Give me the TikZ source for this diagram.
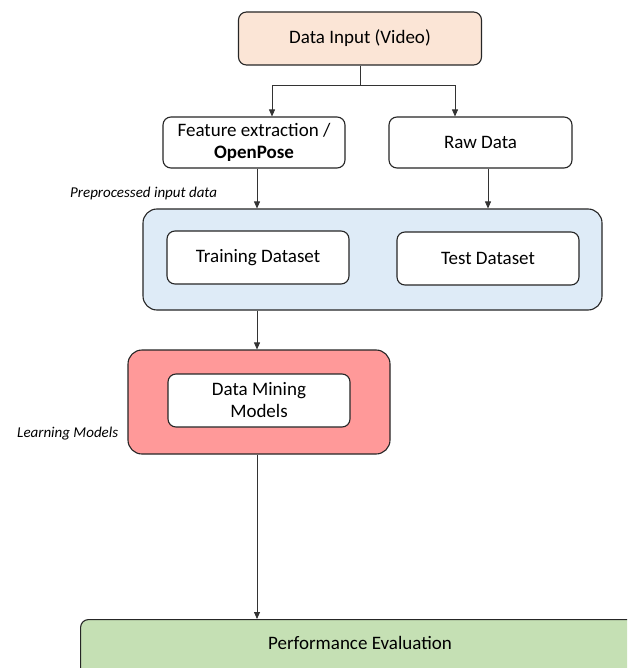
\documentclass[tikz,border=0pt]{standalone}
\usepackage{fontspec}
\setmainfont{Carlito}
\usetikzlibrary{arrows.meta}
\definecolor{cin}{HTML}{FBE5D6}
\definecolor{cblue}{HTML}{DEEBF7}
\definecolor{cred}{HTML}{FF9999}
\definecolor{cgreen}{HTML}{C5E0B4}
\begin{document}
\begin{tikzpicture}[x=1pt,y=-1pt,
  box/.style={draw=black!85,line width=1.1pt,rounded corners=8pt,fill=white,align=center,font=\fontsize{19}{22}\selectfont,inner sep=0pt},
  lab/.style={font=\fontsize{15}{17}\selectfont\itshape,inner sep=0pt},
  conn/.style={draw=black!80,line width=0.8pt},
  arr/.style={conn,-{Triangle[length=7pt,width=6pt]}}]
\clip (0,0) rectangle (627,668);
\fill[white] (0,0) rectangle (627,668);
% nodes
\node[box,fill=cin,minimum width=243pt,minimum height=53pt] (in) at (360,38.5) {Data Input (Video)};
\node[box,minimum width=182pt,minimum height=51pt] (fe) at (254,142.5) {Feature extraction /\\\textbf{OpenPose}};
\node[box,minimum width=183pt,minimum height=51pt] (raw) at (480.5,142.5) {Raw Data};
\node[box,fill=cblue,rounded corners=14pt,minimum width=459pt,minimum height=101pt] (pre) at (372.5,259.5) {};
\node[box,minimum width=182pt,minimum height=53pt] (train) at (258,257.5) {Training Dataset};
\node[box,minimum width=182pt,minimum height=53pt] (test) at (488,258.5) {Test Dataset};
\node[box,fill=cred,rounded corners=14pt,minimum width=262pt,minimum height=104pt] (lm) at (259,402) {};
\node[box,minimum width=182pt,minimum height=53pt] (dm) at (259,400.5) {Data Mining\\Models};
\node[box,fill=cgreen,minimum width=560pt,minimum height=60pt,anchor=north west] (pe) at (80,619) {};
\node[font=\fontsize{19}{22}\selectfont,inner sep=0pt] (pet) at (360,643) {Performance Evaluation};
\node[lab,anchor=west] (l1) at (70,194) {Preprocessed input data};
\node[lab,anchor=west] (l2) at (17,434) {Learning Models};
% connectors
\coordinate (j) at (360,85);
\draw[conn] (in.south) -- (j);
\draw[arr] (j) -| (fe.north -| 272,0);
\draw[arr] (j) -| (raw.north -| 455,0);
\draw[arr] (fe.south -| 257,0) -- (pre.north -| 257,0);
\draw[arr] (raw.south -| 488,0) -- (pre.north -| 488,0);
\draw[arr] (pre.south -| 257,0) -- (lm.north -| 257,0);
\draw[arr] (lm.south -| 257,0) -- (pe.north -| 257,0);
\end{tikzpicture}
\end{document}
